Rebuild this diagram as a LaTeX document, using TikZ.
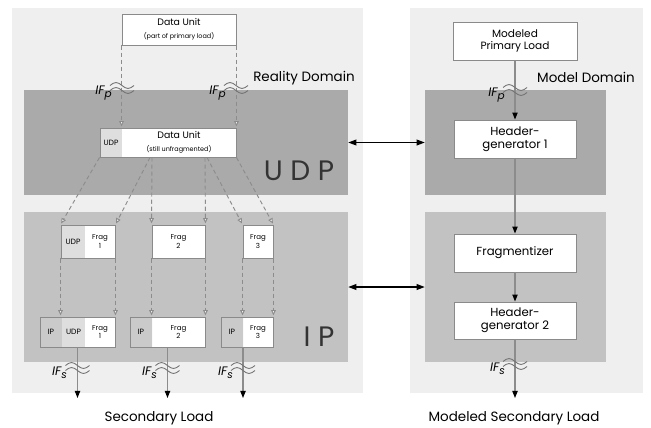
\documentclass[tikz,border=0pt]{standalone}
\usepackage{fontspec}
\setmainfont{Poppins}
\usetikzlibrary{arrows.meta, positioning, calc}

\definecolor{panelgray}{HTML}{EFEFEF}
\definecolor{banddark}{HTML}{AAAAAA}
\definecolor{bandlight}{HTML}{C2C2C2}
\definecolor{hdrip}{HTML}{CACACA}
\definecolor{hdrudp}{HTML}{DEDEDE}
\definecolor{linegray}{HTML}{8C8C8C}
\definecolor{boxgray}{HTML}{8A8A8A}

\tikzset{
  panel/.style={fill=panelgray, inner sep=0pt},
  band/.style={inner sep=0pt},
  box/.style={draw=boxgray, fill=white, line width=0.8pt, inner sep=0pt, align=center},
  % grey header fields at the left end of a packet box
  hdr/.style 2 args={path picture={
      \fill[hdrip] (path picture bounding box.north west) rectangle ([xshift=#1]path picture bounding box.south west);
      \fill[hdrudp] ([xshift=#1]path picture bounding box.north west) rectangle ([xshift=#2]path picture bounding box.south west);}},
  boxtxt/.style={font=\fontsize{10}{11}\selectfont},
  hdrtxt/.style={font=\fontsize{6.5}{7}\selectfont, inner sep=0pt},
  fragtxt/.style={font=\fontsize{6}{5.5}\selectfont, align=center, inner sep=0pt},
  domaintxt/.style={font=\fontsize{11.5}{13}\selectfont, inner sep=0pt},
  layertxt/.style={font=\fontsize{24}{26}\selectfont, text=black!80, inner sep=0pt},
  iflbl/.style={font=\fontsize{10.5}{11}\selectfont\itshape, inner sep=0pt, anchor=east},
  wave/.style={black!55, line width=0.75pt},
  pdu/.style={linegray, line width=0.8pt, dash pattern=on 3.5pt off 2.5pt,
    -{Triangle[length=4.5pt, width=4pt, fill=white]}, shorten >=1pt},
  flow/.style={linegray, line width=1pt, -{Triangle[length=6pt, width=4.5pt, black]}},
  link/.style={line width=1pt, {Triangle[length=7pt, width=5pt]}-{Triangle[length=7pt, width=5pt]}},
}

% interface mark: two small waves across a line
\newcommand\ifwave[1]{%
  \draw[wave] ([shift={(-12,-2.5)}]#1) sin ++(6,-3) cos ++(6,3) sin ++(6,3) cos ++(6,-3);
  \draw[wave] ([shift={(-12,2.5)}]#1) sin ++(6,-3) cos ++(6,3) sin ++(6,3) cos ++(6,-3);}
% interface name with its index
\newcommand\ifname[1]{IF\raisebox{-0.45ex}{\fontsize{9}{9}\selectfont #1}}

\begin{document}
\begin{tikzpicture}[x=0.3mm, y=-0.3mm]
  \useasboundingbox (0,0) rectangle (651,427);

  % domains and layers
  \node[panel, minimum width=105.3mm, minimum height=115.5mm] (real) at (187.5,200.5) {};
  \node[panel, minimum width=69.9mm, minimum height=115.5mm] (model) at (526.5,200.5) {};
  \node[band, fill=banddark, minimum width=97.2mm, minimum height=31.5mm] (udpL) at (186,142.5) {};
  \node[band, fill=bandlight, minimum width=97.2mm, minimum height=45mm] (ipL) at (186,287) {};
  \node[band, fill=banddark, minimum width=54.3mm, minimum height=31.5mm] (udpR) at (515.5,142.5) {};
  \node[band, fill=bandlight, minimum width=54.3mm, minimum height=45mm] (ipR) at (515.5,287) {};

  \node[domaintxt] (rdom) at (304,78) {Reality Domain};
  \node[domaintxt] (mdom) at (586,77) {Model Domain};
  \node[layertxt] (udp) at (299,171) {U D P};
  \node[layertxt] (ip) at (319,337) {I P};
  \node[domaintxt] (sec) at (159,418) {Secondary Load};
  \node[domaintxt] (msec) at (514,418) {Modeled Secondary Load};

  % reality domain: data unit and its fragments
  \node[box, minimum width=34.2mm, minimum height=9.3mm] (du1) at (179,29.5)
    {{\fontsize{8}{8}\selectfont Data Unit}\\[-1pt]{\fontsize{5.5}{6}\selectfont (part of primary load)}};
  \node[box, hdr={0mm}{6.6mm}, minimum width=40.8mm, minimum height=8.7mm] (du2) at (168,142.5) {};
  \node[hdrtxt] (du2h) at (111,142.5) {UDP};
  \node[align=center, inner sep=0pt] (du2t) at (179,142.5)
    {{\fontsize{8}{8}\selectfont Data Unit}\\[-1pt]{\fontsize{5.5}{6}\selectfont (still unfragmented)}};

  \node[box, hdr={0mm}{7.2mm}, minimum width=16.2mm, minimum height=9.9mm] (f1) at (88,241.5) {};
  \node[hdrtxt] (f1h) at (73,241.5) {UDP};
  \node[fragtxt] (f1t) at (100,241.5) {Frag\\1};
  \node[box, fragtxt, minimum width=15.9mm, minimum height=9.9mm] (f2) at (178.5,241.5) {Frag\\2};
  \node[box, fragtxt, minimum width=9mm, minimum height=9.9mm] (f3) at (258,241.5) {Frag\\3};

  \node[box, hdr={6.6mm}{13.5mm}, minimum width=22.5mm, minimum height=9mm] (p1) at (77.5,332) {};
  \node[hdrtxt] (p1a) at (51,332) {IP};
  \node[hdrtxt] (p1b) at (73.5,332) {UDP};
  \node[fragtxt] (p1t) at (100,332) {Frag\\1};
  \node[box, hdr={6.6mm}{6.6mm}, minimum width=22.5mm, minimum height=9mm] (p2) at (167.5,332) {};
  \node[hdrtxt] (p2a) at (141,332) {IP};
  \node[fragtxt] (p2t) at (178.5,332) {Frag\\2};
  \node[box, hdr={6.6mm}{6.6mm}, minimum width=15.6mm, minimum height=9mm] (p3) at (247,332) {};
  \node[hdrtxt] (p3a) at (232,332) {IP};
  \node[fragtxt] (p3t) at (258,332) {Frag\\3};

  % model domain chain
  \node[box, font=\fontsize{9}{10}\selectfont, minimum width=37.2mm, minimum height=11.4mm] (mpl) at (515,41) {Modeled\\Primary Load};
  \node[box, boxtxt, minimum width=36.6mm, minimum height=11.4mm] (hg1) at (515,139) {Header-\\generator 1};
  \node[box, boxtxt, minimum width=36.6mm, minimum height=11.4mm] (frz) at (515,253) {Fragmentizer};
  \node[box, boxtxt, minimum width=36.6mm, minimum height=11.1mm] (hg2) at (515,320.5) {Header-\\generator 2};

  % packets passed down the stack
  \draw[pdu] (du1.south west) -- (du1.south west |- du2.north);
  \draw[pdu] (du1.south east) -- (du1.south east |- du2.north);
  \draw[pdu] (du2.south west) -- (f1.north west);
  \draw[pdu] ([xshift=-5.4mm]du2.south) -- (f1.north east);
  \draw[pdu] ([xshift=-4.8mm]du2.south) -- (f2.north west);
  \draw[pdu] ([xshift=11.1mm]du2.south) -- (f2.north east);
  \draw[pdu] ([xshift=11.7mm]du2.south) -- (f3.north west);
  \draw[pdu] (du2.south east) -- (f3.north east);
  \draw[pdu] (f1.south west) -- (f1.south west |- p1.north);
  \draw[pdu] (f1.south east) -- (f1.south east |- p1.north);
  \draw[pdu] (f2.south west) -- (f2.south west |- p2.north);
  \draw[pdu] (f2.south east) -- (f2.south east |- p2.north);
  \draw[pdu] (f3.south west) -- (f3.south west |- p3.north);
  \draw[pdu] (f3.south east) -- (f3.south east |- p3.north);

  \coordinate (s1) at (77.5,398);
  \coordinate (s2) at (167.5,398);
  \coordinate (s3) at (243,398);
  \coordinate (ms) at (515,398);
  \draw[flow] (p1) -- (s1);
  \draw[flow] (p2) -- (s2);
  \draw[flow] (p3.south -| s3) -- (s3);
  \draw[flow] (mpl) -- (hg1);
  \draw[flow] (hg1) -- (frz);
  \draw[flow] (frz) -- (hg2);
  \draw[flow] (hg2) -- (ms);

  \draw[link] (udpL) -- (udpR);
  \draw[link] (ipL) -- (ipR);

  % interfaces
  \ifwave{122,88}   \node[iflbl] (ifp1) at (112,93) {\ifname{p}};
  \ifwave{236,88}   \node[iflbl] (ifp2) at (226,93) {\ifname{p}};
  \ifwave{515,90}   \node[iflbl] (ifp3) at (505,95) {\ifname{p}};
  \ifwave{77.5,368} \node[iflbl] (ifs1) at (67,373) {\ifname{s}};
  \ifwave{167.5,368}\node[iflbl] (ifs2) at (157,373) {\ifname{s}};
  \ifwave{243,368}  \node[iflbl] (ifs3) at (233,373) {\ifname{s}};
  \ifwave{515,364}  \node[iflbl] (ifs4) at (505,369) {\ifname{s}};
\end{tikzpicture}
\end{document}
